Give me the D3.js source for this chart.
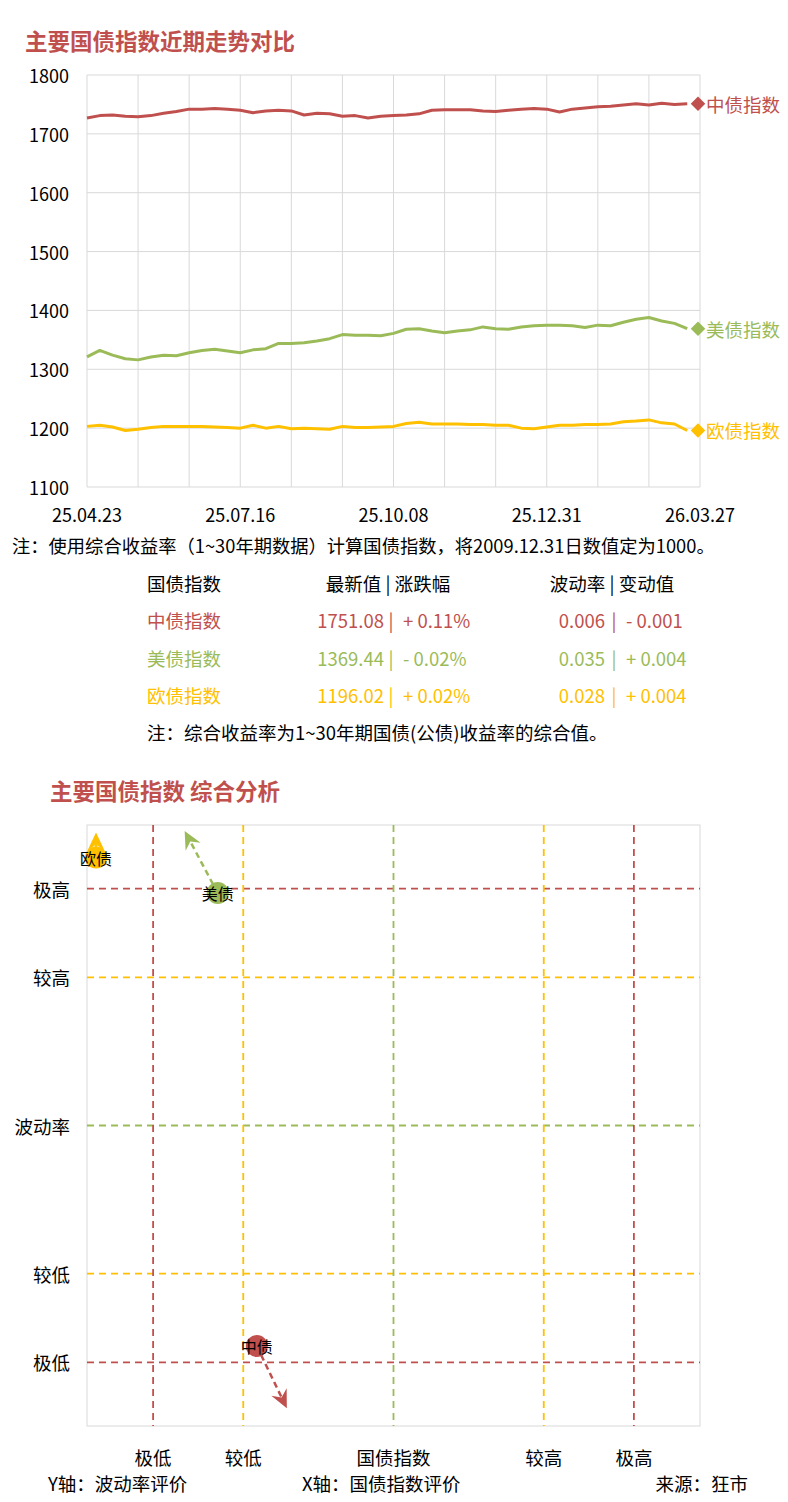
<!DOCTYPE html>
<html lang="zh">
<head>
<meta charset="UTF-8">
<title>主要国债指数</title>
<script src="https://d3js.org/d3.v7.min.js"></script>
<style>
    body { margin: 0; background: #fff; }
    svg text { font-family: "Noto Sans CJK SC", "Noto Sans", sans-serif; }
</style>
</head>
<body>
<div id="chart"></div>
<script>
// ---- top chart data (sampled every quarter grid step) ----
const xLabels = ["25.04.23", "25.07.16", "25.10.08", "25.12.31", "26.03.27"];
const seriesNames = ["中债指数", "美债指数", "欧债指数"];
const chinaIndex = [1727, 1731, 1732, 1730, 1729, 1731, 1735, 1738, 1742, 1742, 1743, 1742,
    1740, 1736, 1739, 1740, 1739, 1732, 1735, 1734, 1730, 1731, 1727, 1730,
    1731, 1732, 1734, 1740, 1741, 1741, 1741, 1739, 1738, 1740, 1742, 1743,
    1742, 1737, 1742, 1744, 1746, 1747, 1749, 1751, 1749, 1752, 1750, 1751];
const usIndex = [1321, 1332, 1324, 1318, 1316, 1321, 1324, 1323, 1328, 1332, 1334, 1331,
    1328, 1333, 1335, 1344, 1344, 1345, 1348, 1352, 1359, 1358, 1358, 1357,
    1361, 1368, 1369, 1365, 1362, 1365, 1367, 1372, 1369, 1368, 1372, 1374,
    1375, 1375, 1374, 1371, 1375, 1374, 1380, 1385, 1388, 1382, 1378, 1369];
const euIndex = [1203, 1205, 1202, 1196, 1198, 1201, 1203, 1203, 1203, 1203, 1202, 1201,
    1200, 1205, 1200, 1203, 1199, 1200, 1199, 1198, 1203, 1201, 1201, 1202,
    1203, 1208, 1210, 1207, 1207, 1207, 1206, 1206, 1205, 1205, 1200, 1199,
    1202, 1205, 1205, 1206, 1206, 1207, 1211, 1212, 1214, 1209, 1207, 1196];
const colors = ["#C0504D", "#9BBB59", "#FFC000"];

// ---- table data ----
const latestValues = [1751.08, 1369.44, 1196.02];
const changePct = [0.11, -0.02, 0.02];
const volatility = [0.006, 0.035, 0.028];
const volChange = [-0.001, 0.004, 0.004];

// ---- bottom chart data ----
const bondNames = ["中债", "美债", "欧债"];
const indexEval = [-0.91, -1.17, -1.98];
const volEval = [-1.49, 1.57, 1.81];
const indexEvalTo = [-0.71, -1.39, -1.98];
const volEvalTo = [-1.91, 1.99, 1.98];
const levels = [-1.6, -1, 0, 1, 1.6];
const xLevelLabels = ["极低", "较低", "国债指数", "较高", "极高"];
const yLevelLabels = ["极低", "较低", "波动率", "较高", "极高"];

const W = 788, H = 1502;
const red = "#C0504D", green = "#9BBB59", gold = "#FFC000", grid = "#D9D9D9";

const svg = d3.select("#chart").append("svg")
    .attr("width", W).attr("height", H);

// ================= top line chart =================
svg.append("text")
    .attr("x", 25).attr("y", 40)
    .attr("dominant-baseline", "central")
    .attr("font-size", 22.5).attr("font-weight", "bold")
    .attr("fill", red)
    .text("主要国债指数近期走势对比");

const x = d3.scaleLinear().domain([0, 48]).range([87, 700]);
const y = d3.scaleLinear().domain([1100, 1800]).range([487, 75]);

svg.append("g").selectAll("line")
    .data(d3.range(0, 49, 4)).join("line")
    .attr("x1", d => x(d)).attr("x2", d => x(d))
    .attr("y1", y(1100)).attr("y2", y(1800))
    .attr("stroke", grid).attr("stroke-width", 1);

svg.append("g").selectAll("line")
    .data(d3.range(1100, 1801, 100)).join("line")
    .attr("x1", x(0)).attr("x2", x(48))
    .attr("y1", d => y(d)).attr("y2", d => y(d))
    .attr("stroke", grid).attr("stroke-width", 1);

svg.append("g").selectAll("text")
    .data(d3.range(1100, 1801, 100)).join("text")
    .attr("x", 69).attr("y", d => y(d))
    .attr("text-anchor", "end").attr("dominant-baseline", "central")
    .attr("font-size", 18).attr("fill", "#000")
    .text(d => d);

svg.append("g").selectAll("text")
    .data(xLabels).join("text")
    .attr("x", (d, i) => x(i * 12)).attr("y", 514)
    .attr("text-anchor", "middle").attr("dominant-baseline", "central")
    .attr("font-size", 18).attr("fill", "#000")
    .text(d => d);

const line = d3.line().x((d, i) => x(i)).y(d => y(d)).curve(d3.curveLinear);
const allSeries = [chinaIndex, usIndex, euIndex];

allSeries.forEach((s, k) => {
    svg.append("path")
        .datum(s)
        .attr("d", line)
        .attr("fill", "none")
        .attr("stroke", colors[k])
        .attr("stroke-width", 3)
        .attr("stroke-linejoin", "round");

    const ly = y(s[s.length - 1]);
    svg.append("path")
        .attr("d", d3.symbol().type(d3.symbolDiamond2).size(135)())
        .attr("transform", `translate(698,${ly})`)
        .attr("fill", colors[k]);
    svg.append("text")
        .attr("x", 706).attr("y", ly)
        .attr("dominant-baseline", "central")
        .attr("font-size", 18.5).attr("fill", colors[k])
        .text(seriesNames[k]);
});

// ================= notes + table =================
svg.append("text")
    .attr("x", 12).attr("y", 545)
    .attr("dominant-baseline", "central")
    .attr("font-size", 18.3).attr("fill", "#000")
    .text("注：使用综合收益率（1~30年期数据）计算国债指数，将2009.12.31日数值定为1000。");

const head = svg.append("g").attr("font-size", 18.5).attr("fill", "#000");
head.append("text").attr("x", 147).attr("y", 583).attr("dominant-baseline", "central").text("国债指数");
head.append("text").attr("x", 388).attr("y", 583).attr("text-anchor", "middle").attr("dominant-baseline", "central").text("最新值 | 涨跌幅");
head.append("text").attr("x", 612).attr("y", 583).attr("text-anchor", "middle").attr("dominant-baseline", "central").text("波动率 | 变动值");

const signed = (v, d, suffix) => (v < 0 ? "- " : "+ ") + Math.abs(v).toFixed(d) + suffix;
const rowY = [620, 658, 695];

const rows = svg.append("g").selectAll("g")
    .data(seriesNames).join("g")
    .attr("font-size", 18.5)
    .attr("fill", (d, i) => colors[i])
    .attr("dominant-baseline", "central");

rows.append("text").attr("x", 147).attr("y", (d, i) => rowY[i]).text(d => d);
rows.append("text").attr("x", 384).attr("y", (d, i) => rowY[i]).attr("text-anchor", "end")
    .text((d, i) => latestValues[i].toFixed(2));
rows.append("text").attr("x", 391).attr("y", (d, i) => rowY[i]).attr("text-anchor", "middle").text("|");
rows.append("text").attr("x", 403).attr("y", (d, i) => rowY[i])
    .text((d, i) => signed(changePct[i], 2, "%"));
rows.append("text").attr("x", 605).attr("y", (d, i) => rowY[i]).attr("text-anchor", "end")
    .text((d, i) => volatility[i].toFixed(3));
rows.append("text").attr("x", 614).attr("y", (d, i) => rowY[i]).attr("text-anchor", "middle").text("|");
rows.append("text").attr("x", 626).attr("y", (d, i) => rowY[i])
    .text((d, i) => signed(volChange[i], 3, ""));

svg.append("text")
    .attr("x", 147).attr("y", 732)
    .attr("dominant-baseline", "central")
    .attr("font-size", 18.5).attr("fill", "#000")
    .text("注：综合收益率为1~30年期国债(公债)收益率的综合值。");

// ================= bottom quadrant chart =================
svg.append("text")
    .attr("x", 50).attr("y", 790)
    .attr("dominant-baseline", "central")
    .attr("font-size", 22.5).attr("font-weight", "bold")
    .attr("fill", red)
    .text("主要国债指数 综合分析");

const bx = d3.scaleLinear().domain([-2.04, 2.04]).range([87, 700]);
const by = d3.scaleLinear().domain([-2.03, 2.03]).range([1426, 825]);
const levelColor = v => Math.abs(v) > 1.2 ? red : (v === 0 ? green : gold);

svg.append("rect")
    .attr("x", bx(-2.04)).attr("y", by(2.03))
    .attr("width", bx(2.04) - bx(-2.04)).attr("height", by(-2.03) - by(2.03))
    .attr("fill", "none").attr("stroke", grid).attr("stroke-width", 1);

svg.append("g").selectAll("line")
    .data(levels).join("line")
    .attr("x1", bx(-2.04)).attr("x2", bx(2.04))
    .attr("y1", d => by(d)).attr("y2", d => by(d))
    .attr("stroke", levelColor).attr("stroke-width", 1.8)
    .attr("stroke-dasharray", "7,5");

svg.append("g").selectAll("line")
    .data(levels).join("line")
    .attr("x1", d => bx(d)).attr("x2", d => bx(d))
    .attr("y1", by(2.03)).attr("y2", by(-2.03))
    .attr("stroke", levelColor).attr("stroke-width", 1.8)
    .attr("stroke-dasharray", "7,5");

svg.append("g").selectAll("text")
    .data(levels).join("text")
    .attr("x", 70).attr("y", d => by(d))
    .attr("text-anchor", "end").attr("dominant-baseline", "central")
    .attr("font-size", 18.5).attr("fill", "#000")
    .text((d, i) => yLevelLabels[i]);

svg.append("g").selectAll("text")
    .data(levels).join("text")
    .attr("x", d => bx(d)).attr("y", 1457)
    .attr("text-anchor", "middle").attr("dominant-baseline", "central")
    .attr("font-size", 18.5).attr("fill", "#000")
    .text((d, i) => xLevelLabels[i]);

// arrows (movement direction)
bondNames.forEach((name, i) => {
    const x0 = bx(indexEval[i]), y0 = by(volEval[i]);
    const x1 = bx(indexEvalTo[i]), y1 = by(volEvalTo[i]);
    const ang = Math.atan2(y1 - y0, x1 - x0);
    const deg = ang * 180 / Math.PI;
    const bxp = x1 - Math.cos(ang) * 12, byp = y1 - Math.sin(ang) * 12;
    svg.append("line")
        .attr("x1", x0).attr("y1", y0).attr("x2", bxp).attr("y2", byp)
        .attr("stroke", colors[i]).attr("stroke-width", 2.5)
        .attr("stroke-dasharray", "6,4");
    svg.append("path")
        .attr("d", "M0,0 L-18,-8.5 L-12,0 L-18,8.5 Z")
        .attr("transform", `translate(${x1},${y1}) rotate(${deg})`)
        .attr("fill", colors[i]);
});

const pts = svg.append("g").selectAll("g")
    .data(bondNames).join("g")
    .attr("transform", (d, i) => `translate(${bx(indexEval[i])},${by(volEval[i])})`);
pts.append("circle").attr("r", 11).attr("fill", (d, i) => colors[i]);
pts.append("text")
    .attr("text-anchor", "middle").attr("dominant-baseline", "central")
    .attr("font-size", 16).attr("fill", "#000")
    .text(d => d);

// footer
const foot = svg.append("g").attr("font-size", 18.5).attr("fill", "#000").attr("dominant-baseline", "central");
foot.append("text").attr("x", 48).attr("y", 1483).text("Y轴：波动率评价");
foot.append("text").attr("x", 302).attr("y", 1483).text("X轴：国债指数评价");
foot.append("text").attr("x", 748).attr("y", 1483).attr("text-anchor", "end").text("来源：狂市");
</script>
</body>
</html>
